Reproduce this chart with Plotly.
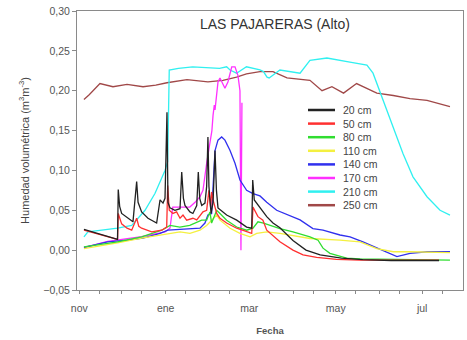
import pandas as pd
import plotly.graph_objects as go

ORIGIN = pd.Timestamp("2004-11-01")

series_names = ["20 cm", "50 cm", "80 cm", "110 cm", "140 cm", "170 cm", "210 cm", "250 cm"]
series_colors = ["#222222", "#ff3030", "#30dd30", "#f4f040", "#3030ee", "#ff30ff", "#30f0f0", "#a04848"]

# day offsets from 1 Nov and volumetric moisture values
d20 = [3.3, 27, 27.5, 28.5, 29.9, 34.4, 37.9, 40.5, 41.5, 44, 48.5, 54.6, 57, 59.1, 60.5, 61.9, 62.6, 64, 67.5,
       71.1, 72.3, 73.5, 74.6, 78.1, 80.2, 82.9, 84.0, 85.0, 86.4, 88.7, 89.9, 90.8, 91.5, 93, 94.4, 95.8, 96.8,
       97.9, 104, 111.1, 118.1, 121.7, 122.4, 123.5, 127.5, 132.3, 136.7, 141.6, 150.8, 160, 170, 185, 200, 220, 253.9]
v20 = [0.026, 0.0134, 0.076, 0.055, 0.046, 0.040, 0.0355, 0.086, 0.060, 0.048, 0.040, 0.034, 0.063, 0.059, 0.065,
       0.173, 0.060, 0.053, 0.050, 0.052, 0.098, 0.065, 0.056, 0.048, 0.046, 0.056, 0.098, 0.065, 0.056, 0.059,
       0.080, 0.142, 0.080, 0.046, 0.060, 0.125, 0.075, 0.053, 0.044, 0.0376, 0.029, 0.0275, 0.088, 0.063, 0.054,
       0.042, 0.034, 0.028, 0.012, 0.0, -0.006, -0.010, -0.012, -0.013, -0.013]

d50 = [3.3, 27, 27.5, 29.9, 33.7, 37, 40.5, 42, 44, 51.1, 58.2, 61.7, 62.4, 63.5, 66.1, 68.7, 71.1, 73.2, 75.8,
       80.2, 82.9, 85.2, 87.3, 89.9, 91.5, 92.7, 93.4, 94.4, 97, 99.3, 104, 111.1, 118.1, 121.7, 122.6, 126.1,
       129.6, 132.3, 141.6, 150.8, 157.9, 167.5, 181.6, 198.1, 253.9]
v50 = [0.025, 0.0134, 0.046, 0.033, 0.0275, 0.025, 0.040, 0.030, 0.0275, 0.023, 0.025, 0.029, 0.081, 0.050,
       0.046, 0.048, 0.040, 0.044, 0.0376, 0.040, 0.038, 0.044, 0.048, 0.050, 0.075, 0.054, 0.073, 0.063, 0.046,
       0.040, 0.034, 0.0275, 0.023, 0.021, 0.054, 0.042, 0.0376, 0.025, 0.0104, 0.0, -0.006, -0.009, -0.0117,
       -0.0125, -0.0125]

d80 = [3.3, 27, 44, 58.2, 64, 71, 78, 86.4, 89.9, 92.2, 93.4, 97, 99.3, 104, 111.1, 118.1, 122.6, 126.1, 130,
       141.6, 150.8, 162.8, 168.5, 172, 176.9, 188.7, 198.1, 261.6]
v80 = [0.004, 0.0104, 0.0167, 0.025, 0.031, 0.029, 0.031, 0.0376, 0.0376, 0.048, 0.034, 0.050, 0.046, 0.0376,
       0.029, 0.025, 0.0275, 0.0355, 0.034, 0.027, 0.023, 0.0167, 0.0125, 0.0025, -0.004, -0.010, -0.011, -0.0125]

d110 = [3.3, 27, 44, 60, 64, 71.1, 78.1, 85.2, 89.9, 93.4, 97, 99.3, 106.4, 113.4, 120.5, 125.2, 132.3, 141.6,
        162.8, 184, 198.1, 210, 221.6, 233.4, 261.6]
v110 = [0.002, 0.009, 0.015, 0.020, 0.021, 0.023, 0.021, 0.025, 0.031, 0.0376, 0.044, 0.0376, 0.0275, 0.021,
        0.0167, 0.021, 0.023, 0.021, 0.0146, 0.0125, 0.0104, 0.002, -0.002, -0.002, -0.003]

d140 = [3.3, 14.6, 20, 33.7, 45, 57, 62.6, 71, 78, 85.2, 88.7, 90.8, 93.4, 94.4, 95.8, 97.9, 100.5, 102.8, 106.4,
        109.9, 113.4, 118.1, 122.6, 127.5, 132.3, 139.3, 155.8, 164.9, 172, 184, 191.1, 200.2, 210.1, 224.2,
        233.4, 245.4, 261.6]
v140 = [0.0034, 0.0088, 0.0105, 0.0125, 0.015, 0.021, 0.025, 0.026, 0.027, 0.0275, 0.034, 0.044, 0.046, 0.079,
        0.125, 0.138, 0.142, 0.138, 0.125, 0.109, 0.088, 0.075, 0.071, 0.068, 0.060, 0.050, 0.038, 0.027, 0.025,
        0.019, 0.0167, 0.0104, 0.0025, -0.008, -0.004, -0.002, -0.002]

d170 = [3.3, 20, 44, 60.5, 64, 66, 78, 81.7, 85.2, 87.3, 89.9, 92.2, 93.6, 94.4, 95.3, 95.8, 97, 97.9, 99.3,
        100.5, 102.8, 104.9, 107.6, 109.9, 112, 113.4, 114.1, 114.8]
v170 = [0.003, 0.011, 0.017, 0.023, 0.0275, 0.054, 0.054, 0.060, 0.067, 0.075, 0.109, 0.134, 0.150, 0.169,
        0.182, 0.176, 0.194, 0.211, 0.216, 0.211, 0.203, 0.211, 0.230, 0.230, 0.219, 0.200, 0.0, 0.185]

d210 = [3.3, 6.1, 27, 37, 46.4, 53.4, 60.5, 62.4, 63.5, 70, 80, 90, 99, 104, 106.4, 111, 118, 127.5, 130, 132.5,
        134, 141.6, 150.8, 155.8, 162.8, 174.8, 191, 203, 207.3, 214.3, 221.4, 228.5, 235.5, 245.4, 254.6, 261.6]
v210 = [0.0167, 0.023, 0.0275, 0.031, 0.050, 0.071, 0.100, 0.111, 0.226, 0.228, 0.230, 0.229, 0.228, 0.230,
        0.226, 0.222, 0.230, 0.226, 0.224, 0.217, 0.216, 0.226, 0.224, 0.222, 0.238, 0.241, 0.236, 0.232, 0.222,
        0.188, 0.155, 0.121, 0.092, 0.067, 0.050, 0.044]

d250 = [3.3, 7, 14.6, 23.8, 33.7, 45, 54, 61.9, 76, 90.8, 101.4, 111, 118, 127.5, 132.5, 136.7, 146.6, 162.8,
        171.3, 178.3, 186.5, 195.7, 210, 221.6, 233.4, 245.4, 261.6]
v250 = [0.189, 0.195, 0.209, 0.205, 0.208, 0.205, 0.207, 0.210, 0.214, 0.211, 0.213, 0.217, 0.221, 0.224, 0.224,
        0.224, 0.216, 0.213, 0.200, 0.205, 0.197, 0.209, 0.197, 0.194, 0.190, 0.188, 0.180]

series_days = [d20, d50, d80, d110, d140, d170, d210, d250]
series_vals = [v20, v50, v80, v110, v140, v170, v210, v250]

tick_dates = ["2004-11-01", "2005-01-01", "2005-03-01", "2005-05-01", "2005-07-01"]
tick_labels = ["nov", "ene", "mar", "may", "jul"]
minor_dates = [d for m in pd.date_range("2004-11-01", "2005-07-01", freq="MS")
               for d in (m, m + pd.Timedelta(days=14))]


def to_dates(days):
    return [ORIGIN + pd.Timedelta(days=d) for d in days]


fig = go.Figure()
# draw deeper series first so that the shallow ones sit on top
order = [7, 6, 5, 4, 3, 2, 1, 0]
for i in order:
    fig.add_trace(go.Scatter(
        x=to_dates(series_days[i]), y=series_vals[i], mode="lines",
        name=series_names[i], line=dict(color=series_colors[i], width=1.3),
        showlegend=False, hoverinfo="skip"))

x0 = ORIGIN - pd.Timedelta(days=1.6)
x1 = ORIGIN + pd.Timedelta(days=270.8)

fig.update_layout(
    width=467, height=340,
    margin=dict(l=77, r=4, t=11, b=50),
    paper_bgcolor="white", plot_bgcolor="white",
    separators=",.",
    font=dict(family="Liberation Sans, Arial, sans-serif", size=10, color="#555555"),
)
fig.update_xaxes(
    range=[x0, x1], automargin=False,
    showline=True, linecolor="#8a8a8a", linewidth=1, mirror=True,
    showgrid=False, zeroline=False,
    tickmode="array", tickvals=tick_dates, ticktext=tick_labels,
    ticks="outside", ticklen=3, tickcolor="#8a8a8a", ticklabelstandoff=5,
    minor=dict(tickmode="array", tickvals=minor_dates, ticks="outside", ticklen=3, tickcolor="#8a8a8a"),
    tickfont=dict(size=10.5, color="#555555"),
    title=dict(text="<b>Fecha</b>", font=dict(size=9.5, color="#555555"), standoff=14),
)
fig.update_yaxes(
    range=[-0.05, 0.30], dtick=0.05, tick0=0, tickformat=".2f", automargin=False,
    showline=True, linecolor="#8a8a8a", linewidth=1, mirror=True,
    showgrid=False, zeroline=False,
    ticks="outside", ticklen=4, tickcolor="#8a8a8a",
    tickfont=dict(size=10.5, color="#555555"),
    title=dict(text="Humedad volumétrica (m<sup>3</sup>m<sup>-3</sup>)",
               font=dict(size=11, color="#444444"), standoff=11),
)

fig.add_annotation(text="LAS PAJARERAS (Alto)", xref="paper", yref="paper",
                   x=0.513, y=0.952, xanchor="center", yanchor="middle", showarrow=False,
                   font=dict(size=14, color="#333333"))

# legend built from the series lists (positions relative to the plot area)
plot_l, plot_w, plot_b, plot_h = 77, 386, 290, 279
for k, (name, col) in enumerate(zip(series_names, series_colors)):
    py = 110 + 13.6 * k
    yp = (plot_b - py) / plot_h
    fig.add_shape(type="line", xref="paper", yref="paper",
                  x0=(308 - plot_l) / plot_w, x1=(335 - plot_l) / plot_w, y0=yp, y1=yp,
                  line=dict(color=col, width=2.5))
    fig.add_annotation(text=name, xref="paper", yref="paper",
                       x=(341 - plot_l) / plot_w, y=yp, xanchor="left", yanchor="middle",
                       showarrow=False, font=dict(size=10.5, color="#444444"))

fig.write_html("out.html", config={"displayModeBar": False},
               post_script="document.body.style.margin='0';")
